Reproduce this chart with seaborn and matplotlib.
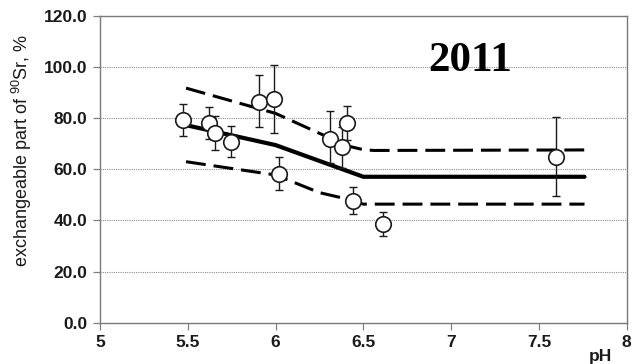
import matplotlib
matplotlib.use("Agg")
import matplotlib.pyplot as plt
import seaborn as sns
import pandas as pd

# Measured soil samples: pH, exchangeable share of 90Sr (%) and the error bar ends
ph = [5.47, 5.62, 5.655, 5.745, 5.905, 5.99, 6.02, 6.31, 6.38, 6.405, 6.44, 6.61, 7.60]
share = [79.3, 78.0, 74.1, 70.8, 86.5, 87.4, 58.1, 71.7, 68.6, 78.0, 47.5, 38.5, 64.9]
share_hi = [85.6, 84.3, 80.9, 77.1, 96.9, 100.7, 64.8, 82.9, 76.6, 84.8, 53.0, 43.2, 80.4]
share_lo = [73.2, 71.8, 67.4, 64.8, 76.4, 74.1, 52.0, 62.4, 60.4, 71.5, 42.5, 33.8, 49.6]

# Fitted dependence and its confidence band
fit_ph = [5.49, 6.0, 6.5, 7.76]
fit_mid = [77.3, 69.5, 57.1, 57.1]
band_up_ph = [5.49, 6.0, 6.25, 6.42, 6.5, 6.56, 7.76]
band_up = [91.8, 81.9, 74.1, 69.0, 67.7, 67.4, 67.6]
band_lo_ph = [5.49, 6.0, 6.25, 6.4, 6.5, 7.76]
band_lo = [63.0, 57.8, 50.9, 48.5, 46.4, 46.4]

x_ticks = [5, 5.5, 6, 6.5, 7, 7.5, 8]
x_tick_labels = ["5", "5.5", "6", "6.5", "7", "7.5", "8"]
y_ticks = [0, 20, 40, 60, 80, 100, 120]
y_tick_labels = ["0.0", "20.0", "40.0", "60.0", "80.0", "100.0", "120.0"]

sns.set_theme(style="white")
plt.rcParams["font.family"] = ["Liberation Sans", "DejaVu Sans"]
plt.rcParams["mathtext.fontset"] = "custom"
plt.rcParams["mathtext.rm"] = "Liberation Sans"
plt.rcParams["mathtext.it"] = "Liberation Sans"
plt.rcParams["mathtext.bf"] = "Liberation Sans:bold"

samples = pd.DataFrame({"pH": ph, "share": share})
fit = pd.DataFrame({"pH": fit_ph, "share": fit_mid})
upper = pd.DataFrame({"pH": band_up_ph, "share": band_up})
lower = pd.DataFrame({"pH": band_lo_ph, "share": band_lo})

fig = plt.figure(figsize=(6.33, 3.64), dpi=100)
ax = fig.add_axes([0.158, 0.1134, 0.832, 0.8426])

# horizontal dotted grid
for yv in y_ticks[1:-1]:
    ax.axhline(yv, color="#8c8c8c", lw=0.8, ls=(0, (1, 1)), zorder=0)

sns.lineplot(data=upper, x="pH", y="share", ax=ax, color="black", lw=2.2,
             sort=False, estimator=None, zorder=2)
sns.lineplot(data=lower, x="pH", y="share", ax=ax, color="black", lw=2.2,
             sort=False, estimator=None, zorder=2)
for line in ax.lines[-2:]:
    line.set_dashes((6.5, 2.6))
sns.lineplot(data=fit, x="pH", y="share", ax=ax, color="black", lw=3.0,
             sort=False, estimator=None, zorder=3)

yerr = [[s - lo for s, lo in zip(share, share_lo)],
        [hi - s for s, hi in zip(share, share_hi)]]
ax.errorbar(ph, share, yerr=yerr, fmt="none", ecolor="#1a1a1a", elinewidth=1.0,
            capsize=3.2, capthick=1.0, zorder=4)
sns.scatterplot(data=samples, x="pH", y="share", ax=ax, s=125, color="white",
                edgecolor="#1a1a1a", linewidth=1.2, zorder=5)

ax.set_xlim(5, 8)
ax.set_ylim(0, 120)
ax.set_xticks(x_ticks)
ax.set_xticklabels(x_tick_labels, fontsize=12.5, fontweight="bold")
ax.set_yticks(y_ticks)
ax.set_yticklabels(y_tick_labels, fontsize=12.5, fontweight="bold")
ax.tick_params(axis="both", direction="out", length=5, width=0.9, color="#808080",
               labelcolor="#1a1a1a", pad=4, bottom=True, left=True)
for sp in ax.spines.values():
    sp.set_color("#7a7a7a")
    sp.set_linewidth(1.0)

ax.set_xlabel("")
ax.set_ylabel(r"exchangeable part of $^{90}$Sr, %", fontsize=13, color="#1a1a1a")
ax.yaxis.set_label_coords(-0.125, 0.563)
fig.text(0.949, 0.0, "pH", fontsize=12.5, fontweight="bold", color="#1a1a1a",
         ha="center", va="bottom")
ax.text(7.11, 102.5, "2011", fontsize=31, fontweight="bold",
        family=["Liberation Serif", "DejaVu Serif"], ha="center", va="center",
        color="black", zorder=6)

fig.savefig("out.png", dpi=100)
